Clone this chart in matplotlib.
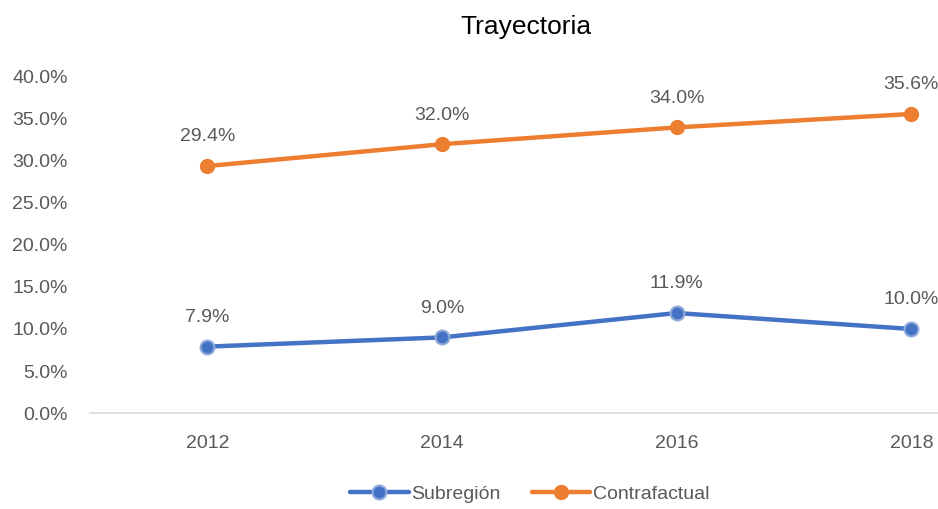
import matplotlib
matplotlib.use("Agg")
from matplotlib import pyplot

pyplot.rcParams['font.family'] = ['Liberation Sans Narrow', 'Liberation Sans', 'DejaVu Sans']

years = ["2012", "2014", "2016", "2018"]
subregion = [7.9, 9.0, 11.9, 10.0]
contrafactual = [29.4, 32.0, 34.0, 35.6]

blue = "#4472c4"
orange = "#ed7d31"
grey_text = "#595959"

fig = pyplot.figure(figsize=(9.38, 5.09), dpi=100)
ax = fig.add_axes([90 / 938, 1 - 413 / 509, 1 - 90 / 938, (413 - 77) / 509])

x = list(range(len(years)))
ax.plot(x, subregion, color=blue, linewidth=3.2, marker='o', markersize=10,
        markerfacecolor=blue, markeredgecolor="#8faadc", markeredgewidth=1.5,
        label="Subregión", solid_capstyle='round')
ax.plot(x, contrafactual, color=orange, linewidth=3.2, marker='o', markersize=10,
        markerfacecolor=orange, markeredgecolor=orange,
        label="Contrafactual", solid_capstyle='round')

for xi, v in zip(x, subregion):
    ax.annotate("%.1f%%" % v, (xi, v), xytext=(0, 21), textcoords='offset points',
                ha='center', va='center', fontsize=14, color=grey_text)
for xi, v in zip(x, contrafactual):
    ax.annotate("%.1f%%" % v, (xi, v), xytext=(0, 21), textcoords='offset points',
                ha='center', va='center', fontsize=14, color=grey_text)

ax.set_ylim(0, 40)
ax.set_xlim(-0.5, -0.5 + 848 / 234.67)
ax.set_yticks([0, 5, 10, 15, 20, 25, 30, 35, 40])
ax.set_yticklabels(["%.1f%%" % t for t in ax.get_yticks()])
ax.set_xticks(x)
ax.set_xticklabels(years)
ax.tick_params(axis='both', length=0, labelsize=14, labelcolor=grey_text)
ax.tick_params(axis='x', pad=16)
ax.tick_params(axis='y', pad=16)
for side in ['top', 'right', 'left']:
    ax.spines[side].set_visible(False)
ax.spines['bottom'].set_color("#d9d9d9")
ax.spines['bottom'].set_linewidth(1.2)

fig.text(526 / 938, 1 - 27 / 509, "Trayectoria", ha='center', va='center',
         fontsize=19, color='black')

fig.legend(loc='center', bbox_to_anchor=(530 / 938, 1 - 494 / 509), ncol=2,
           frameon=False, fontsize=14, labelcolor=grey_text, handlelength=3,
           columnspacing=1.6, handletextpad=0.15)

pyplot.savefig("out.png", dpi=100)
